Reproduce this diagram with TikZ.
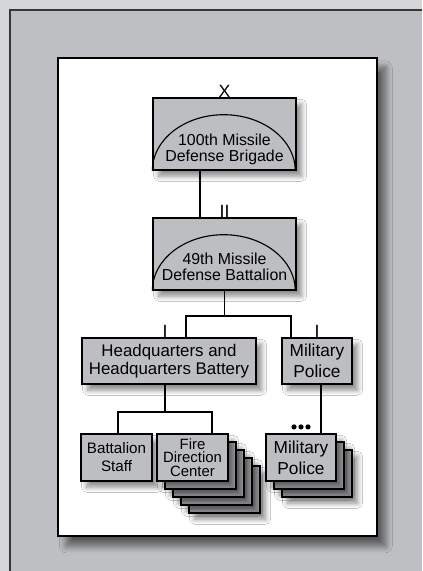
\documentclass[tikz,border=0pt]{standalone}
\usepackage{fontspec}
\setmainfont{Liberation Sans}
\usepackage{xcolor}
\usepackage{tikz}
\definecolor{pagegray}{RGB}{212, 213, 215}
\definecolor{framegray}{RGB}{190, 191, 195}
\definecolor{framedark}{RGB}{55, 55, 57}
\definecolor{unitgray}{RGB}{189, 190, 194}
\definecolor{copygray}{RGB}{172, 172, 175}
\usetikzlibrary{shadows.blur, calc}

\begin{document}
\begin{tikzpicture}[
    unit/.style={rectangle, draw=black, fill=unitgray, line width=1pt, inner sep=0pt, align=center, blur shadow={shadow xshift=4pt, shadow yshift=-4.5pt, shadow blur radius=3.5pt, shadow blur steps=10, shadow opacity=45}},
    bigunit/.style={unit, minimum width=3.575cm, minimum height=1.8cm},
    backcopy/.style={unit, minimum width=1.775cm, minimum height=1.175cm, fill=copygray},
    unittext/.style={align=center, inner sep=0pt, font=\fontsize{11.3}{11.6}\selectfont},
    echelon/.style={anchor=south, inner sep=0pt, font=\fontsize{12.6}{13}\selectfont},
    conn/.style={line width=1.4pt}
]
    \useasboundingbox (0, 0) rectangle (10.55, -14.275);
    \fill[pagegray] (0, 0) rectangle (10.55, -14.275);
    \fill[framegray] (0.24, -0.25) rectangle (10.55, -14.275);
    \draw[framedark, line width=1.4pt] (0.24, -14.275) |- (10.55, -0.25);
    \draw[fill=white, line width=1pt, blur shadow={shadow xshift=6pt, shadow yshift=-7pt, shadow blur radius=5pt, shadow blur steps=12, shadow opacity=55}] (1.45, -1.45) rectangle (9.42, -13.4);

    \node[bigunit] (brigade) at (5.6125, -3.35) {};
    \draw[line width=0.8pt] (brigade.south west) arc[start angle=180, end angle=0, x radius=1.7875cm, y radius=1.4cm];
    \node[unittext] (brigadetext) at ([yshift=-0.38cm]brigade.center) {100th Missile\\Defense Brigade};
    \node[echelon] (brigademark) at (brigade.north) {X};

    \node[bigunit] (batt) at (5.6125, -6.35) {};
    \draw[line width=0.8pt] (batt.south west) arc[start angle=180, end angle=0, x radius=1.7875cm, y radius=1.4cm];
    \node[unittext] (batttext) at ([yshift=-0.32cm]batt.center) {49th Missile\\Defense Battalion};
    \node[echelon] (battmark) at (batt.north) {II};

    \node[unit, minimum width=4.35cm, minimum height=1.15cm, font=\fontsize{12}{12.8}\selectfont] (hq) at (4.225, -9.025) {Headquarters and\\Headquarters Battery};
    \node[echelon] (hqmark) at ([xshift=-0.1cm]hq.north) {I};
    \node[unit, minimum width=1.75cm, minimum height=1.15cm, font=\fontsize{12.3}{15}\selectfont] (mp) at (7.925, -9.025) {Military\\Police};
    \node[echelon] (mpmark) at (mp.north) {I};

    \node[unit, minimum width=1.775cm, minimum height=1.175cm, font=\fontsize{10.8}{12.8}\selectfont] (staff) at (2.9125, -11.4375) {Battalion\\Staff};
    \foreach \k in {4, 3, 2, 1}
        \node[backcopy] (fdc\k) at (4.8125 + \k*0.2, -11.4375 - \k*0.2) {};
    \node[unit, minimum width=1.775cm, minimum height=1.175cm, font=\fontsize{10.6}{9.4}\selectfont] (fdc) at (4.8125, -11.4375) {Fire\\Direction\\Center};
    \foreach \k in {2, 1}
        \node[backcopy, minimum width=1.75cm] (mpb\k) at (7.525 + \k*0.2, -11.4375 - \k*0.2) {};
    \node[unit, minimum width=1.75cm, minimum height=1.175cm, font=\fontsize{12.3}{15}\selectfont] (mpb) at (7.525, -11.4375) {Military\\Police};
    \foreach \d in {-1, 0, 1}
        \fill ([shift={(\d*0.175, 0.16)}]mpb.north) circle (0.065);

    \draw[conn] ([xshift=-0.6125cm]brigade.south) -- ([xshift=-0.6125cm]batt.north);
    \draw[conn] (batt.south) -- ++(0, -0.625) coordinate (battjoin);
    \draw[conn] ([xshift=0.425cm]hq.north) |- (battjoin) -| ([xshift=-0.65cm]mp.north);
    \draw[conn] ([xshift=-0.1cm]hq.south) -- ++(0, -0.675) coordinate (hqjoin);
    \draw[conn] ([xshift=0.0375cm]staff.north) |- (hqjoin) -| ([xshift=0.4875cm]fdc.north);
    \draw[conn] ([xshift=0.1cm]mp.south) -- ([xshift=0.5cm]mpb.north);
\end{tikzpicture}
\end{document}
